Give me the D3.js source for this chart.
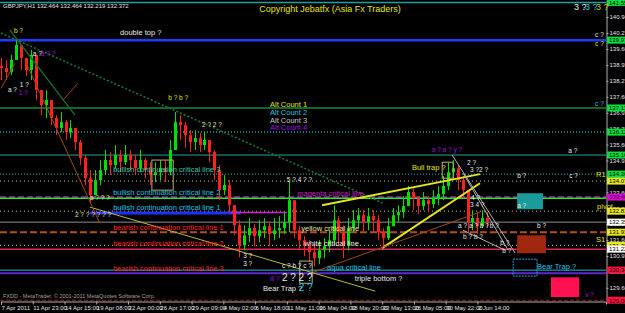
<!DOCTYPE html>
<html>
<head>
<meta charset="utf-8">
<script src="https://cdn.jsdelivr.net/npm/d3@7"></script>
<style>
body { margin: 0; background: #000; }
svg { display: block; font-family: "Liberation Sans", Arial, sans-serif; }
</style>
</head>
<body>
<script>
// GBPJPY H1 - candles, one drawn candle per 10 bars
var barStep = 10;
var firstOpen = 138.90;
var closes = [138.80,138.63,139.14,139.77,139.22,138.72,139.35,137.88,137.25,137.46,
    136.71,136.29,136.54,136.12,136.29,135.70,135.03,134.19,133.48,134.11,
    134.53,134.95,134.74,135.16,134.86,135.16,134.95,134.61,134.95,134.53,
    134.32,134.44,134.61,134.44,135.37,136.54,136.41,135.99,135.70,135.87,
    135.58,135.79,135.28,134.53,133.69,133.90,133.06,132.22,131.38,131.80,
    132.10,131.76,132.01,132.18,131.85,132.01,132.10,132.35,133.27,132.01,
    131.59,131.34,131.09,130.84,131.17,131.34,131.59,132.43,131.93,131.38,
    132.10,132.43,132.64,132.35,132.60,132.43,131.93,131.68,132.18,132.64,
    132.77,133.02,133.61,133.35,133.02,133.27,133.10,133.35,133.52,133.86,
    134.44,134.61,134.11,133.69,132.35,132.52,132.18,132.52,132.37];
var highs = [139.22,139.14,139.35,140.06,139.64,139.22,139.56,138.72,137.80,137.88,
    137.46,136.83,136.96,136.62,136.62,136.29,135.79,135.16,134.53,134.53,
    134.95,135.37,135.28,135.58,135.37,135.58,135.37,135.16,135.37,135.03,
    134.86,134.86,134.95,134.95,135.79,136.96,136.83,136.54,136.20,136.20,
    136.08,136.12,135.79,135.37,134.74,134.32,134.11,133.06,132.43,132.22,
    132.52,132.27,132.43,132.52,132.35,132.52,132.60,132.77,134.03,132.77,
    132.18,131.76,131.59,131.43,131.59,131.68,132.01,133.06,132.60,132.22,
    132.52,132.85,132.94,132.85,132.94,132.85,132.64,132.10,132.52,132.94,
    133.06,133.44,133.86,133.77,133.44,133.61,133.44,133.69,133.86,134.28,
    134.86,134.95,134.74,134.28,133.69,132.85,132.77,132.85,132.77];
var lows = [138.30,138.30,138.51,139.22,138.72,138.47,138.30,137.46,136.83,136.71,
    136.41,135.99,136.12,135.79,135.87,135.37,134.74,133.90,133.14,133.48,
    133.90,134.32,134.32,134.61,134.44,134.74,134.53,134.32,134.44,134.19,
    133.90,134.03,134.11,134.03,134.32,135.37,135.79,135.45,135.28,135.37,
    135.28,135.37,134.86,134.11,133.27,133.48,132.77,131.80,130.88,131.17,
    131.51,131.34,131.51,131.68,131.34,131.59,131.68,131.85,131.93,131.68,
    131.17,130.92,130.67,130.50,130.59,130.84,131.09,131.38,131.34,130.84,
    131.17,131.93,132.10,131.93,132.01,131.93,131.59,131.34,131.59,132.18,
    132.35,132.52,133.06,132.85,132.69,132.85,132.77,132.94,133.06,133.27,
    133.69,134.11,133.69,133.35,131.93,132.01,131.85,132.10,132.10];

// bottom time scale, one label every 64 bars
var timeLabels = ["7 Apr 2011","11 Apr 23:00","14 Apr 15:00","19 Apr 08:00","22 Apr 00:00",
    "26 Apr 17:00","29 Apr 09:00","4 May 02:00","6 May 18:00","11 May 11:00","16 May 04:00",
    "18 May 20:00","23 May 13:00","26 May 05:00","30 May 22:00","2 Jun 14:00"];
var priceTicks = [140.940,140.270,139.600,138.930,138.270,137.600,136.930,136.270,135.600,
    134.930,134.270,133.600,132.930,132.270,131.600,130.930,130.270,129.600];

// horizontal levels (price) and what kind of line each one is
var levelPrices = [141.55,139.97,137.13,136.12,135.16,134.36,134.07,133.40,133.35,132.81,
    132.35,131.93,131.38,131.22,130.34,130.21,129.08];
var levelKinds = ["top","doubleTop","green","tealDot","teal","r1","khaki","magenta","bull2","pivot",
    "bid","bear1","s1","bear2","aqua","purple","bottom"];

// short segments: [bar1, bar2, price]
var segments = [[179,483,132.73],[462,577,132.75]];
var segmentKinds = ["bull1","magentaSeg"];

// trend lines: [bar1, price1, bar2, price2]
var trendLines = [[0,140.27,770,133.14],[18,140.39,149,136.83],[179,132.98,754,129.46],
    [647,133.06,965,134.36],[768,131.26,965,133.98],[629,130.25,965,132.77],
    [909,135.16,1036,131.05],[931,134.40,1022,131.17],[931,132.01,1016,131.17],
    [48,139.14,199,132.31],[125,137.46,155,138.17],[0,137.95,28,139.00]];
var trendKinds = ["greenDot","green","yellow","yellowBold","yellowBold","brown",
    "gray","gray","gray","brown","brown","brown"];

// zones: [bar1, price1, bar2, price2]
var zones = [[1040,133.56,1092,132.89],[1040,131.80,1098,131.05],[1108,130.04,1165,129.21]];
var zoneKinds = ["teal","darkred","pink"];
var boxes = [[889,134.86,911,134.19],[304,134.95,347,133.69],[602,130.72,627,129.79],[1032,130.80,1080,130.09]];
var boxKinds = ["khaki","khaki","khaki","cyanDot"];

// text labels anchored at [bar, price]
var lineLabels = ["double top ?","bullish continuation critical line 3","bullish continuation critical line 2",
    "bullish continuation critical line 1","bearish continuation critical line 1","bearish continuation critical line 2",
    "bearish continuation critical line 3","magenta critical line","yellow critical line","white critical line",
    "aqua critical line","triple bottom ?","Bull trap ?","Bear Trap ?","Bear Trap ?",
    "Alt Count 1","Alt Count 2","Alt Count 3","Alt Count 4","R1","pivot","S1"];
var lineLabelPos = [[240,140.18],[226,134.44],[226,133.48],[226,132.85],[226,132.01],[226,131.34],
    [226,130.30],[597,133.44],[605,131.97],[611,131.34],[657,130.34],[713,129.88],[828,134.53],
    [1080,130.38],[528,129.46],[542,137.17],[542,136.83],[542,136.50],[542,136.20],
    [1199,134.23],[1201,132.89],[1199,131.51]];
var lineLabelKinds = ["white","teal","cyan","cyan","red","red","red","magenta","cream","white",
    "cyan","white","yellow","cyan","white","yellow","cyan","silver","purple","yellow","yellow","yellow"];

var waveLabels = ["b ?","a ?","a ? ?","a ?","1 ?","1 ?","b ? b ?","2 ? 2 ?","2 ? ? ? ? ? ?","a ? ? ?",
    "5 ? 4 ? ?","3 ?","3 ?","a ? a ? y ?","2 ?","3 ?2 ?","4 ?","3 4 ?","a ? a ? b ?","b ?","b ?",
    "b ? b ?","b ?","b ?","a ?","b ?","c ? b ? c ?","iii ?","2 ? 2 ?","2 ?","c ?","c ?","c ?","a ?","v ?","c ?"];
var wavePos = [[26,140.27],[64,139.30],[80,139.30],[14,137.80],[36,137.67],[38,138.00],[337,137.46],
    [405,136.33],[149,132.56],[179,133.27],[576,134.03],[488,130.84],[488,130.50],[868,135.28],
    [939,134.74],[945,134.44],[947,133.27],[945,132.98],[921,132.10],[985,132.10],[1080,132.10],
    [931,131.64],[1006,131.38],[1010,131.05],[1040,132.94],[1040,134.19],[566,130.42],[542,129.88],
    [566,129.88],[600,129.46],[1197,140.10],[1197,139.72],[1197,137.21],[1143,135.24],[1177,129.21],[1145,134.19]];
var waveKinds = ["yellow","white","purple","white","purple","white","yellow","cream","cream","cream",
    "white","white","white","purple","white","white","white","white","white","white","white",
    "white","white","white","white","white","white","purple","whiteBig","cyanBig","white","yellow","cyan","white","purple","white"];

window.onload = function(){
    var w = 625, h = 313;

    var svg = d3.select("body")
        .append("svg")
        .attr("width", w)
        .attr("height", h)
        .style("background-color", "#000");

    var x = d3.scaleLinear().domain([0, 1219]).range([1, 606]); // bar index -> pixel
    var y = d3.scaleLinear().domain([129.048, 141.652]).range([301, 0]); // price -> pixel

    var textColor = {white:"#e8e8e8", yellow:"#e6e600", cyan:"#19c6e6", teal:"#3cc8a8", red:"#ff2020",
        magenta:"#c818c8", cream:"#e0e0a0", silver:"#c8c8c8", purple:"#a010e0",
        whiteBig:"#e8e8e8", cyanBig:"#19c6e6"};

    var levelStyle = {
        top: {c:"#1aa0a0", w:1.5}, doubleTop: {c:"#1e3cff", w:2.5}, green: {c:"#0b6a2a", w:2},
        tealDot: {c:"#28a8a8", w:1.5, d:"1,2"}, teal: {c:"#2aa0a0", w:1}, r1: {c:"#2ab4b4", w:1, d:"1,2"},
        khaki: {c:"#c8c070", w:1, d:"1,3"}, magenta: {c:"#7a1a8a", w:2, d:"6,3"}, bull2: {c:"#30e030", w:1.5},
        pivot: {c:"#c8c040", w:1, d:"1,3"}, bid: {c:"#909090", w:1}, bear1: {c:"#b05020", w:2, d:"7,3"},
        s1: {c:"#d0d040", w:1, d:"1,3"}, bear2: {c:"#e02858", w:1.5}, aqua: {c:"#28b8e8", w:1},
        purple: {c:"#6028c8", w:2}, bottom: {c:"#a02010", w:1, d:"4,2"}
    };
    var labelBox = {top:"#00e040", doubleTop:"#00e040", green:"#00e040", tealDot:"#00e040", teal:"#00e040",
        r1:"#00e040", khaki:"#e8e820", magenta:"#e000e0", pivot:"#e8e820", bid:"#ffffff", bear1:"#e8e820",
        s1:"#e8e820", bear2:"#ffffff", aqua:"#ff1040", bottom:"#ff1040"};

    // horizontal level lines
    svg.selectAll(".level")
        .data(levelPrices)
        .enter()
        .append("line")
        .attr("class", "level")
        .attr("x1", 0)
        .attr("x2", 606)
        .attr("y1", function(d){ return y(d); })
        .attr("y2", function(d){ return y(d); })
        .style("stroke", function(d, i){ return levelStyle[levelKinds[i]].c; })
        .style("stroke-width", function(d, i){ return levelStyle[levelKinds[i]].w; })
        .style("stroke-dasharray", function(d, i){ return levelStyle[levelKinds[i]].d || null; });

    var segStyle = {bull1: {c:"#2030ff", w:3}, magentaSeg: {c:"#d020d0", w:1.5}};
    svg.selectAll(".seg")
        .data(segments)
        .enter()
        .append("line")
        .attr("x1", function(d){ return x(d[0]); })
        .attr("x2", function(d){ return x(d[1]); })
        .attr("y1", function(d){ return y(d[2]); })
        .attr("y2", function(d){ return y(d[2]); })
        .style("stroke", function(d, i){ return segStyle[segmentKinds[i]].c; })
        .style("stroke-width", function(d, i){ return segStyle[segmentKinds[i]].w; });

    // filled zones on the right
    var zoneFill = {teal:"#1a9c9c", darkred:"#a02810", pink:"#ff1050"};
    svg.selectAll(".zone")
        .data(zones)
        .enter()
        .append("rect")
        .attr("x", function(d){ return x(d[0]); })
        .attr("y", function(d){ return y(d[1]); })
        .attr("width", function(d){ return x(d[2]) - x(d[0]); })
        .attr("height", function(d){ return y(d[3]) - y(d[1]); })
        .style("fill", function(d, i){ return zoneFill[zoneKinds[i]]; });

    // candles
    var bars = closes.map(function(c, i){
        return {bar: i * barStep, open: i ? closes[i-1] : firstOpen, high: highs[i], low: lows[i], close: c};
    });
    var candle = svg.selectAll(".candle")
        .data(bars)
        .enter()
        .append("g")
        .attr("class", "candle");
    candle.append("line")
        .attr("x1", function(d){ return Math.round(x(d.bar)) + 0.5; })
        .attr("x2", function(d){ return Math.round(x(d.bar)) + 0.5; })
        .attr("y1", function(d){ return y(d.high); })
        .attr("y2", function(d){ return y(d.low); })
        .style("stroke", function(d){ return d.close >= d.open ? "#00e000" : "#ff2020"; });
    candle.append("rect")
        .attr("x", function(d){ return Math.round(x(d.bar)) - 1; })
        .attr("y", function(d){ return y(Math.max(d.open, d.close)); })
        .attr("width", 3)
        .attr("height", function(d){ return Math.max(1, Math.abs(y(d.open) - y(d.close))); })
        .style("fill", function(d){ return d.close >= d.open ? "#00e000" : "#ff2020"; });

    // trend lines
    var trendStyle = {greenDot: {c:"#1a7a3a", w:1.5, d:"2,2"}, green: {c:"#146a30", w:1.5},
        yellow: {c:"#b8b830", w:1}, yellowBold: {c:"#e6e620", w:2}, brown: {c:"#a04818", w:1},
        gray: {c:"#b0b0b0", w:1}};
    svg.selectAll(".trend")
        .data(trendLines)
        .enter()
        .append("line")
        .attr("x1", function(d){ return x(d[0]); })
        .attr("y1", function(d){ return y(d[1]); })
        .attr("x2", function(d){ return x(d[2]); })
        .attr("y2", function(d){ return y(d[3]); })
        .style("stroke", function(d, i){ return trendStyle[trendKinds[i]].c; })
        .style("stroke-width", function(d, i){ return trendStyle[trendKinds[i]].w; })
        .style("stroke-dasharray", function(d, i){ return trendStyle[trendKinds[i]].d || null; });

    // outline boxes
    var boxStyle = {khaki: {c:"#b8b070", d:null}, cyanDot: {c:"#28a0e0", d:"2,1"}};
    svg.selectAll(".box")
        .data(boxes)
        .enter()
        .append("rect")
        .attr("x", function(d){ return x(d[0]); })
        .attr("y", function(d){ return y(d[1]); })
        .attr("width", function(d){ return x(d[2]) - x(d[0]); })
        .attr("height", function(d){ return y(d[3]) - y(d[1]); })
        .style("fill", "none")
        .style("stroke", function(d, i){ return boxStyle[boxKinds[i]].c; })
        .style("stroke-dasharray", function(d, i){ return boxStyle[boxKinds[i]].d; });

    // line names and wave counts
    svg.selectAll(".lineLabel")
        .data(lineLabels)
        .enter()
        .append("text")
        .attr("x", function(d, i){ return x(lineLabelPos[i][0]); })
        .attr("y", function(d, i){ return y(lineLabelPos[i][1]); })
        .style("font-size", "7.5px")
        .style("fill", function(d, i){ return textColor[lineLabelKinds[i]]; })
        .text(function(d){ return d; });

    svg.selectAll(".wave")
        .data(waveLabels)
        .enter()
        .append("text")
        .attr("x", function(d, i){ return x(wavePos[i][0]); })
        .attr("y", function(d, i){ return y(wavePos[i][1]); })
        .style("font-size", function(d, i){ return /Big/.test(waveKinds[i]) ? "10px" : "6.5px"; })
        .style("fill", function(d, i){ return textColor[waveKinds[i]]; })
        .text(function(d){ return d; });

    // price axis on the right
    var yAxis = d3.axisRight(y).tickValues(priceTicks).tickFormat(d3.format(".3f")).tickSize(2);
    var gy = svg.append("g")
        .attr("transform", "translate(606.5,0)")
        .call(yAxis);
    gy.select(".domain").style("stroke", "#b0b0b0");
    gy.selectAll("line").style("stroke", "#b0b0b0");
    gy.selectAll("text").style("fill", "#e0e0e0").style("font-size", "6px").attr("x", 3);

    // coloured price boxes of the level lines
    var tagged = levelPrices.filter(function(d, i){ return labelBox[levelKinds[i]]; });
    var tagKinds = levelKinds.filter(function(k){ return labelBox[k]; });
    var tags = svg.selectAll(".tag")
        .data(tagged)
        .enter()
        .append("g")
        .attr("transform", function(d){ return "translate(607," + y(d) + ")"; });
    tags.append("rect")
        .attr("x", 0).attr("y", -3.5).attr("width", 20).attr("height", 7)
        .style("fill", function(d, i){ return labelBox[tagKinds[i]]; });
    tags.append("text")
        .attr("x", 2).attr("y", 2.3)
        .style("font-size", "6px").style("fill", "#000")
        .text(function(d){ return d3.format(".3f")(d); });

    // time axis
    var xAxis = d3.axisBottom(x)
        .tickValues(timeLabels.map(function(d, i){ return i * 64; }))
        .tickFormat(function(d, i){ return timeLabels[i]; })
        .tickSize(3);
    var gx = svg.append("g")
        .attr("transform", "translate(0,301.5)")
        .call(xAxis);
    gx.select(".domain").style("stroke", "#b0b0b0");
    gx.selectAll("line").style("stroke", "#b0b0b0");
    gx.selectAll("text").style("fill", "#e0e0e0").style("font-size", "6px")
        .attr("text-anchor", "start").attr("y", 4).attr("dy", "0.71em");

    // header texts
    svg.append("text").attr("x", 3).attr("y", 8)
        .style("font-size", "6px").style("fill", "#e0e0e0")
        .text("GBPJPY,H1  132.464 132.464 132.219 132.372");
    svg.append("text").attr("x", 330).attr("y", 12).attr("text-anchor", "middle")
        .style("font-size", "9px").style("fill", "#e6e600")
        .text("Copyright Jebatfx (Asia Fx Traders)");
    var topCounts = [["3 ?", "#d8f0f0"], ["3 ?", "#19c6e6"], ["3 ?", "#d0c000"]];
    svg.selectAll(".topCount")
        .data(topCounts)
        .enter()
        .append("text")
        .attr("x", function(d, i){ return 574 + i * 11; })
        .attr("y", 10)
        .style("font-size", "9px")
        .style("fill", function(d){ return d[1]; })
        .text(function(d){ return d[0]; });
    svg.append("text").attr("x", 3).attr("y", 298)
        .style("font-size", "5.5px").style("fill", "#a0a0a0")
        .text("FXDD - MetaTrader, \u00a9 2001-2011 MetaQuotes Software Corp.");
};
</script>
</body>
</html>
